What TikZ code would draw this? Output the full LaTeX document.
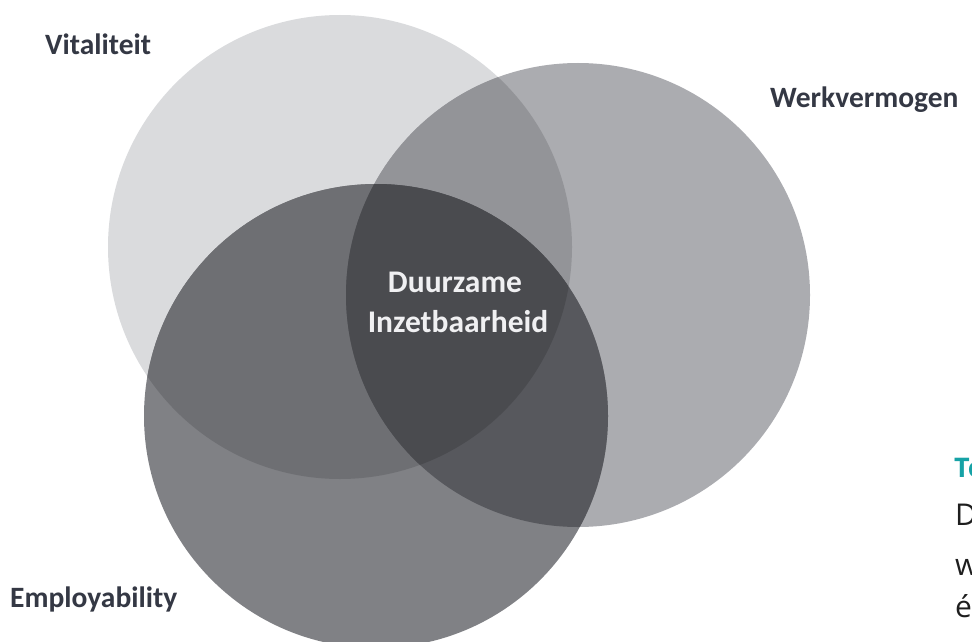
\documentclass[tikz,border=0pt]{standalone}
\usepackage{fontspec}
\setmainfont{Carlito}
\newfontfamily\bodyfont{Open Sans}
% circle fills and their multiplied overlaps
\definecolor{vitalfill}{RGB}{218,219,221}
\definecolor{werkfill}{RGB}{171,172,176}
\definecolor{emplfill}{RGB}{128,129,133}
\definecolor{vwfill}{RGB}{147,148,152}
\definecolor{vefill}{RGB}{110,111,115}
\definecolor{wefill}{RGB}{87,88,93}
\definecolor{corefill}{RGB}{74,75,79}
\definecolor{labelink}{RGB}{52,56,68}
\definecolor{coreink}{RGB}{240,240,242}
\definecolor{teal}{RGB}{22,162,166}
\definecolor{bodyink}{RGB}{30,30,30}
\begin{document}
\begin{tikzpicture}[x=1pt,y=-1pt,
  setlabel/.style={font=\bfseries\fontsize{29.5}{36}\selectfont, text=labelink, inner sep=0pt, anchor=base west},
  corelabel/.style={font=\bfseries\fontsize{31.5}{40}\selectfont, text=coreink, inner sep=0pt, anchor=base},
  sidetext/.style={font=\bodyfont\fontsize{30}{36}\selectfont, text=bodyink, inner sep=0pt, anchor=base west}]
\useasboundingbox (0,0) rectangle (972,642);
\clip (0,0) rectangle (972,642);
\fill[white] (0,0) rectangle (972,642);

% circle centres
\coordinate (cV) at (340,247);
\coordinate (cW) at (578,295);
\coordinate (cE) at (376,416);
\def\rad{232pt}

% single circles
\fill[vitalfill] (cV) circle (\rad);
\fill[werkfill] (cW) circle (\rad);
\fill[emplfill] (cE) circle (\rad);

% pairwise overlaps
\begin{scope}
  \clip (cV) circle (\rad);
  \fill[vwfill] (cW) circle (\rad);
  \fill[vefill] (cE) circle (\rad);
\end{scope}
\begin{scope}
  \clip (cW) circle (\rad);
  \fill[wefill] (cE) circle (\rad);
\end{scope}

% triple overlap
\begin{scope}
  \clip (cV) circle (\rad);
  \clip (cW) circle (\rad);
  \fill[corefill] (cE) circle (\rad);
\end{scope}

% labels
\node[setlabel] (vital) at (45,55) {Vitaliteit};
\node[setlabel] (werk) at (770,107) {Werkvermogen};
\node[setlabel] (empl) at (10,607) {Employability};
\node[corelabel] (core1) at (455,292) {Duurzame};
\node[corelabel] (core2) at (458,332) {Inzetbaarheid};

% text running off the right edge
\node[sidetext, font=\bodyfont\bfseries\fontsize{27}{34}\selectfont, text=teal] (side1) at (954,477) {To};
\node[sidetext] (side2) at (955,525) {D};
\node[sidetext] (side3) at (955,575) {w};
\node[sidetext] (side4) at (955,617) {é};
\end{tikzpicture}
\end{document}
